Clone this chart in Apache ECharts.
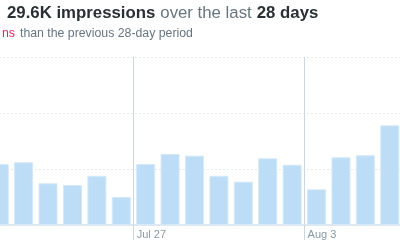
<!DOCTYPE html>
<html>
<head>
<meta charset="utf-8">
<script src="https://cdn.jsdelivr.net/npm/echarts@6/dist/echarts.min.js"></script>
<style>html,body{margin:0;padding:0;background:#fff;overflow:hidden}#c{position:absolute;left:-13px;top:0;width:415px;height:250px}</style>
</head>
<body>
<div id="c"></div>
<script>
const categories = ['Jul 21','Jul 22','Jul 23','Jul 24','Jul 25','Jul 26','Jul 27','Jul 28','Jul 29','Jul 30','Jul 31','Aug 1','Aug 2','Aug 3','Aug 4','Aug 5','Aug 6'];
const impressions = [1090, 1120, 745, 714, 880, 500, 1089, 1268, 1238, 880, 773, 1191, 1077, 637, 1209, 1245, 1780];
const tickLabels = ['Jul 27', 'Aug 3'];
const yTicks = [0, 1000, 2000, 3000];

const markIdx = tickLabels.map(t => categories.indexOf(t));
const chart = echarts.init(document.getElementById('c'), null, {renderer: 'canvas'});
chart.setOption({
  animation: false,
  title: [{
    left: 15, top: -1,
    text: '{b|29.6K impressions} {l|over the last} {b|28 days}',
    textStyle: {
      fontWeight: 'normal',
      rich: {
        b: {fontFamily: 'Liberation Sans', fontSize: 16.8, fontWeight: 'bold', color: '#292f33'},
        l: {fontFamily: 'Liberation Sans', fontSize: 16.8, fontWeight: 'normal', color: '#66757f'}
      }
    }
  }, {
    left: 10, top: 20,
    text: '{r|ns} {g|than the previous 28-day period}',
    textStyle: {
      fontWeight: 'normal',
      rich: {
        r: {fontFamily: 'Liberation Sans', fontSize: 12.3, fontWeight: 'normal', color: '#e0245e'},
        g: {fontFamily: 'Liberation Sans', fontSize: 12.3, fontWeight: 'normal', color: '#66757f'}
      }
    }
  }],
  grid: {left: 0, right: 0, top: 57, bottom: 25, containLabel: false},
  xAxis: {
    type: 'category',
    data: categories,
    axisLine: {lineStyle: {color: '#e1e8ed', width: 2}},
    axisTick: {show: true, length: 15, lineStyle: {color: '#ccd6dd'}, interval: (i) => markIdx.includes(i)},
    splitLine: {show: true, lineStyle: {color: '#ccd6dd', width: 1}, interval: (i) => markIdx.includes(i)},
    axisLabel: {
      interval: (i) => markIdx.includes(i),
      formatter: (v) => tickLabels.includes(v) ? v : '',
      align: 'left', padding: [0, 0, 0, -9], margin: 4,
      fontFamily: 'Liberation Sans', fontSize: 11, color: '#8899a6'
    }
  },
  yAxis: {
    type: 'value', min: yTicks[0], max: yTicks[yTicks.length - 1], interval: 1000,
    axisLabel: {show: false}, axisLine: {show: false}, axisTick: {show: false},
    splitLine: {show: true, lineStyle: {color: '#e1e8ed', type: [2, 2], width: 1}}
  },
  series: [{
    type: 'bar',
    data: impressions,
    barWidth: 19,
    itemStyle: {color: '#bddcf5', borderColor: '#d4e9f9', borderWidth: 1}
  }]
});
</script>
</body>
</html>
